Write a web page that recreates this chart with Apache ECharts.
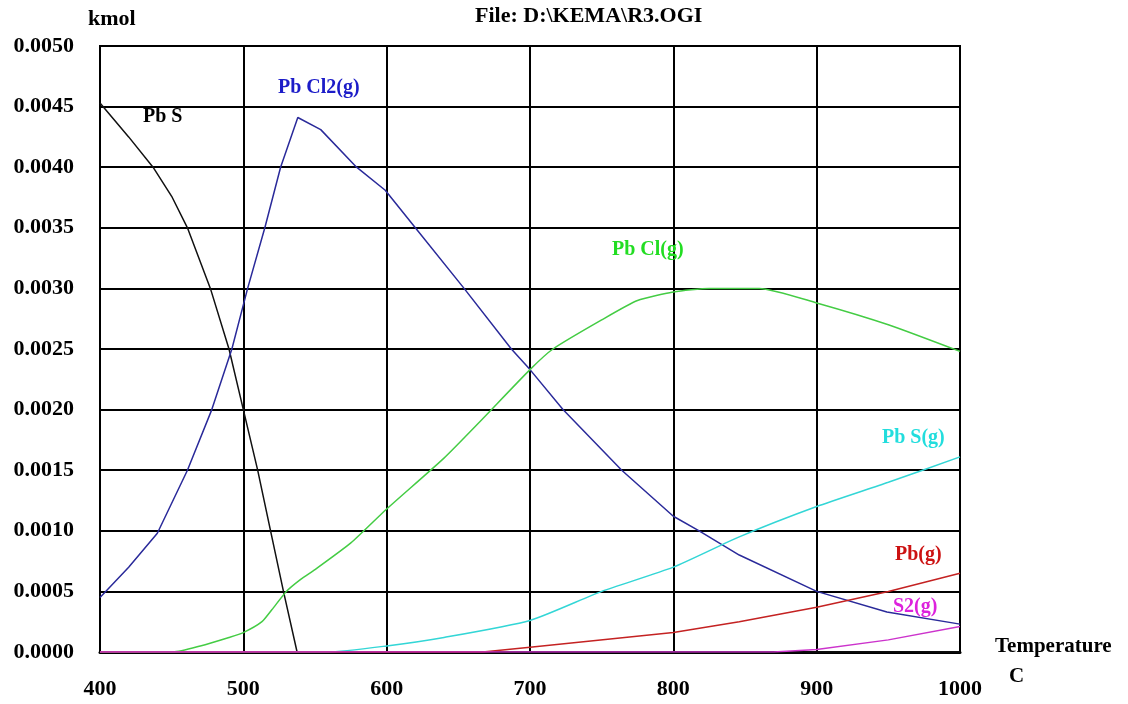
<!DOCTYPE html>
<html>
<head>
<meta charset="utf-8">
<script src="https://cdn.jsdelivr.net/npm/echarts@6/dist/echarts.min.js"></script>
<style>
  body { margin: 0; background: #fff; }
  #chart { width: 1128px; height: 704px; }
</style>
</head>
<body>
<div id="chart"></div>
<script>
// temperatures (C) and amounts (kmol)
var pbsT   = [400, 420, 437, 450, 461, 477, 490, 500, 510, 519, 528, 537.5, 1000];
var pbsV   = [0.00453, 0.00425, 0.0040, 0.00376, 0.0035, 0.0030, 0.0025, 0.0020, 0.0015, 0.0010, 0.0005, 0, 0];

var pbcl2T = [400, 420, 440, 461, 478, 492, 503, 515, 526, 538, 554, 579, 599, 620, 654, 687, 700, 723, 764, 800, 818, 846, 900, 949, 1000];
var pbcl2V = [0.00045, 0.0007, 0.00098, 0.0015, 0.0020, 0.0025, 0.0030, 0.0035, 0.0040, 0.00441, 0.00431, 0.0040, 0.00381, 0.0035, 0.0030, 0.0025, 0.00233, 0.0020, 0.0015, 0.00112, 0.0010, 0.0008, 0.0005, 0.00033, 0.00023];

var pbclT  = [400, 451, 470, 490, 500, 513, 520, 530, 540, 550, 575, 600, 640, 665, 700, 716, 750, 775, 800, 825, 860, 900, 950, 1000];
var pbclV  = [0, 0, 0.00005, 0.00012, 0.00016, 0.00025, 0.00035, 0.0005, 0.0006, 0.00068, 0.0009, 0.00118, 0.0016, 0.0019, 0.00233, 0.0025, 0.00274, 0.0029, 0.00297, 0.0030, 0.0030, 0.00288, 0.0027, 0.00248];

var pbsgT  = [400, 559, 600, 640, 700, 750, 800, 846, 900, 950, 1000];
var pbsgV  = [0, 0, 0.00005, 0.00012, 0.00026, 0.0005, 0.0007, 0.00095, 0.0012, 0.0014, 0.00161];

var pbgT   = [400, 667, 700, 800, 846, 900, 950, 1000];
var pbgV   = [0, 0, 0.00004, 0.00016, 0.00025, 0.00037, 0.0005, 0.00065];

var s2T    = [400, 870, 900, 950, 1000];
var s2V    = [0, 0, 0.00002, 0.0001, 0.00021];

function pairs(t, v) {
    return t.map(function (x, i) { return [x, v[i]]; });
}

var font = '"Liberation Serif", "Times New Roman", serif';
var chart = echarts.init(document.getElementById('chart'));

function line(name, t, v, color, z, smooth) {
    return {
        name: name,
        type: 'line',
        data: pairs(t, v),
        showSymbol: false,
        smooth: smooth,
        z: z,
        lineStyle: { color: color, width: 1.5 }
    };
}

function label(text, x, y, color, size) {
    return {
        type: 'text',
        left: x,
        top: y,
        z: 100,
        style: { text: text, fill: color, font: 'bold ' + (size || 20) + 'px ' + font }
    };
}

var option = {
    animation: false,
    backgroundColor: '#fff',
    grid: { left: 100, right: 168, top: 46, bottom: 52, show: true, borderColor: '#000', borderWidth: 2 },
    xAxis: {
        type: 'value',
        min: 400,
        max: 1000,
        interval: 100,
        axisLine: { lineStyle: { color: '#000', width: 3 } },
        axisTick: { show: false },
        axisLabel: {
            color: '#000', fontFamily: font, fontWeight: 'bold', fontSize: 22, margin: 26,
            formatter: function (v) { return String(v); }
        },
        splitLine: { lineStyle: { color: '#000', width: 2 } }
    },
    yAxis: {
        type: 'value',
        min: 0,
        max: 0.005,
        interval: 0.0005,
        axisLine: { show: true, lineStyle: { color: '#000', width: 2 } },
        axisTick: { show: false },
        axisLabel: {
            color: '#000', fontFamily: font, fontWeight: 'bold', fontSize: 22, margin: 26,
            formatter: function (v) { return v.toFixed(4); }
        },
        splitLine: { lineStyle: { color: '#000', width: 2 } }
    },
    series: [
        line('Pb S', pbsT, pbsV, '#111111', 3, false),
        line('Pb Cl2(g)', pbcl2T, pbcl2V, '#2a2a9a', 4, false),
        line('Pb Cl(g)', pbclT, pbclV, '#44cc44', 5, 0.2),
        line('Pb S(g)', pbsgT, pbsgV, '#33d6d6', 6, 0.2),
        line('Pb(g)', pbgT, pbgV, '#c42222', 7, false),
        line('S2(g)', s2T, s2V, '#cc33cc', 8, false)
    ],
    graphic: [
        label('kmol', 88, 8, '#000', 22),
        label('File: D:\\KEMA\\R3.OGI', 475, 5, '#000', 22),
        label('Temperature', 995, 636, '#000', 21),
        label('C', 1009, 666, '#000', 21),
        label('Pb S', 143, 107, '#000'),
        label('Pb Cl2(g)', 278, 78, '#1c1cc8'),
        label('Pb Cl(g)', 612, 240, '#22dd22'),
        label('Pb S(g)', 882, 428, '#22dddd'),
        label('Pb(g)', 895, 545, '#cc1111'),
        label('S2(g)', 893, 597, '#dd22dd')
    ]
};
chart.setOption(option);
</script>
</body>
</html>
